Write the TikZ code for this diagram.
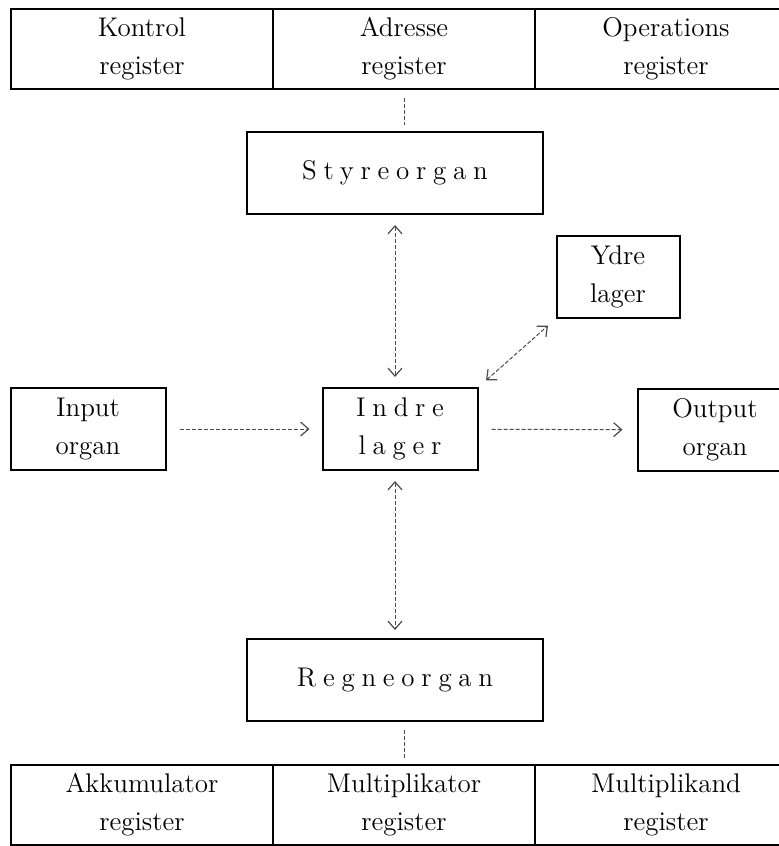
\documentclass[tikz,border=0pt]{standalone}
\usepackage{fontspec}
\setmainfont{Latin Modern Roman}
\usepackage{tikz}
\usetikzlibrary{arrows.meta}

\tikzset{
	blok/.style={draw, line width=1pt, align=center, inner sep=0pt, font=\fontsize{13.5}{19}\selectfont},
	reg/.style={blok, minimum width=131pt, minimum height=40pt},
	organ/.style={blok, minimum width=77.5pt, minimum height=41pt},
	bred/.style={blok, minimum width=148pt, minimum height=41pt},
	spids/.tip={Straight Barb[length=4pt,width=7pt,line width=0.6pt]},
	forb/.style={draw=black!70, line width=0.5pt, dash pattern=on 2pt off 1pt},
}
\newcommand{\spred}[1]{{\addfontfeature{LetterSpace=25}#1}}

\begin{document}
\begin{tikzpicture}[x=0.5pt, y=-0.5pt]
	\useasboundingbox (0,0) rectangle (779,846);
	\clip (0,0) rectangle (779,846);

	\node[reg] (kontrol) at (142,49) {Kontrol\\register};
	\node[reg] (adresse) at (404,49) {Adresse\\register};
	\node[reg] (operation) at (666,49) {Operations\\register};

	\node[bred] (styr) at (395,173) {\spred{Styreorgan}};
	\node[organ, minimum width=61.5pt] (ydre) at (618,277) {Ydre\\lager};

	\node[organ] (input) at (88,429) {Input\\organ};
	\node[organ] (indre) at (400,429) {\spred{Indre}\\\spred{lager}};
	\node[organ] (output) at (715,430) {Output\\organ};

	\node[bred] (regne) at (395,680) {\spred{Regneorgan}};

	\node[reg] (akku) at (142,805) {Akkumulator\\register};
	\node[reg] (multor) at (404,805) {Multiplikator\\register};
	\node[reg] (multand) at (666,805) {Multiplikand\\register};

	\draw[forb, shorten <=4pt, shorten >=3pt] (adresse.south) -- (adresse.south |- styr.north);
	\draw[forb, spids-spids, shorten <=5pt, shorten >=5pt] (styr.south) -- (styr.south |- indre.north);
	\draw[forb, spids-spids, shorten <=5pt, shorten >=5pt] (indre.north east) -- (ydre.south west);
	\draw[forb, -spids, shorten <=6.5pt, shorten >=6pt] (input) -- (indre);
	\draw[forb, -spids, shorten <=6.5pt, shorten >=7pt] (indre) -- (output);
	\draw[forb, spids-spids, shorten <=5pt, shorten >=4pt] (indre.south -| styr.south) -- (regne.north);
	\draw[forb, shorten <=4pt, shorten >=2pt] (multor.north |- regne.south) -- (multor.north);
\end{tikzpicture}
\end{document}
